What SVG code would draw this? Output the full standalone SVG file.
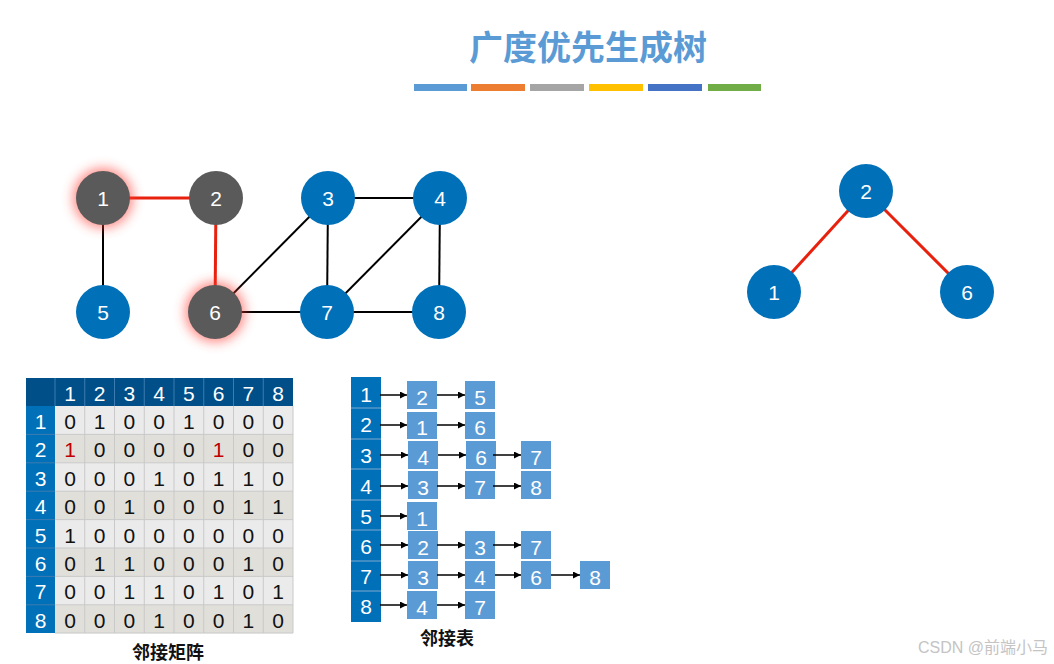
<svg xmlns="http://www.w3.org/2000/svg" width="1054" height="664" viewBox="0 0 1054 664">
<style>
.t{font-family:"Liberation Sans","Noto Sans CJK SC",sans-serif}
.nd text{font-family:"Liberation Sans",sans-serif;font-size:21px;fill:#fff;text-anchor:middle;dominant-baseline:central}
.blue{fill:#0070b8}
.gray{fill:#5a5a5a}
.ed .k{stroke:#000;stroke-width:2}
.ed .r{stroke:#e8210f;stroke-width:3}
.mh{font-family:"Liberation Sans",sans-serif;font-size:21px;fill:#fff;text-anchor:middle;dominant-baseline:central}
.mv{font-family:"Liberation Sans",sans-serif;font-size:21px;fill:#111;text-anchor:middle;dominant-baseline:central}
.box{fill:#5b9bd5}
.bt{font-family:"Liberation Sans",sans-serif;font-size:21px;fill:#fff;text-anchor:middle;dominant-baseline:central}
.ar{stroke:#000;stroke-width:1.5;marker-end:url(#ah)}
</style>
<defs>
<filter id="glow" x="-1" y="-1" width="3" height="3"><feGaussianBlur stdDeviation="6"/></filter>
<marker id="ah" viewBox="0 0 10 10" refX="10" refY="5" markerWidth="7" markerHeight="7" orient="auto" markerUnits="userSpaceOnUse"><path d="M0,0 L10,5 L0,10 z" fill="#000"/></marker>
</defs>
<rect width="1054" height="664" fill="#fff"/>
<g id="title">
<text class="t" x="588" y="60" font-size="34" font-weight="600" fill="#5b9bd5" text-anchor="middle">广度优先生成树</text>
<rect x="414" y="84" width="53" height="7" fill="#5b9bd5"/>
<rect x="471" y="84" width="54" height="7" fill="#ed7d31"/>
<rect x="530" y="84" width="54" height="7" fill="#a5a5a5"/>
<rect x="589" y="84" width="54" height="7" fill="#ffc000"/>
<rect x="648" y="84" width="54" height="7" fill="#4472c4"/>
<rect x="708" y="84" width="53" height="7" fill="#70ad47"/>
</g>
<g id="connectors" class="ed">
<line class="r" x1="103" y1="198" x2="216" y2="198"/>
<line class="r" x1="216" y1="198" x2="215" y2="312"/>
<line class="k" x1="103" y1="198" x2="103" y2="312"/>
<line class="k" x1="328" y1="198" x2="440" y2="198"/>
<line class="k" x1="328" y1="198" x2="327" y2="312"/>
<line class="k" x1="440" y1="198" x2="439" y2="312"/>
<line class="k" x1="440" y1="198" x2="327" y2="312"/>
<line class="k" x1="328" y1="198" x2="215" y2="312"/>
<line class="k" x1="215" y1="312" x2="439" y2="312"/>
<line class="r" x1="866" y1="191" x2="774" y2="292"/>
<line class="r" x1="866" y1="191" x2="967" y2="292"/>
</g>
<g id="glows">
<circle cx="103" cy="198" r="30" fill="#ff3b30" opacity="0.6" filter="url(#glow)"/>
<circle cx="215" cy="312" r="30" fill="#ff3b30" opacity="0.6" filter="url(#glow)"/>
</g>
<g id="n1" class="nd"><circle class="gray" cx="103" cy="198" r="27"/><text x="103" y="198">1</text></g>
<g id="n2" class="nd"><circle class="gray" cx="216" cy="198" r="27"/><text x="216" y="198">2</text></g>
<g id="n3" class="nd"><circle class="blue" cx="328" cy="198" r="27"/><text x="328" y="198">3</text></g>
<g id="n4" class="nd"><circle class="blue" cx="440" cy="198" r="27"/><text x="440" y="198">4</text></g>
<g id="n5" class="nd"><circle class="blue" cx="103" cy="312" r="27"/><text x="103" y="312">5</text></g>
<g id="n6" class="nd"><circle class="gray" cx="215" cy="312" r="27"/><text x="215" y="312">6</text></g>
<g id="n7" class="nd"><circle class="blue" cx="327" cy="312" r="27"/><text x="327" y="312">7</text></g>
<g id="n8" class="nd"><circle class="blue" cx="439" cy="312" r="27"/><text x="439" y="312">8</text></g>
<g id="t2" class="nd"><circle class="blue" cx="866" cy="191" r="27"/><text x="866" y="191">2</text></g>
<g id="t1" class="nd"><circle class="blue" cx="774" cy="292" r="27"/><text x="774" y="292">1</text></g>
<g id="t6" class="nd"><circle class="blue" cx="967" cy="292" r="27"/><text x="967" y="292">6</text></g>
<g id="matrix">
<rect x="26" y="378" width="267" height="28" fill="#004f88"/>
<rect x="26" y="406" width="29" height="227" fill="#0070b8"/>
<rect x="55" y="406" width="238" height="28.4" fill="#ebebeb"/>
<rect x="55" y="434.4" width="238" height="28.4" fill="#e0dfda"/>
<rect x="55" y="462.8" width="238" height="28.4" fill="#ebebeb"/>
<rect x="55" y="491.2" width="238" height="28.4" fill="#e0dfda"/>
<rect x="55" y="519.6" width="238" height="28.4" fill="#ebebeb"/>
<rect x="55" y="548" width="238" height="28.4" fill="#e0dfda"/>
<rect x="55" y="576.4" width="238" height="28.4" fill="#ebebeb"/>
<rect x="55" y="604.8" width="238" height="28.4" fill="#e0dfda"/>
<g stroke="#c9c9c9" stroke-width="1">
<line x1="84.75" y1="406" x2="84.75" y2="633"/><line x1="114.5" y1="406" x2="114.5" y2="633"/><line x1="144.25" y1="406" x2="144.25" y2="633"/><line x1="174" y1="406" x2="174" y2="633"/><line x1="203.75" y1="406" x2="203.75" y2="633"/><line x1="233.5" y1="406" x2="233.5" y2="633"/><line x1="263.25" y1="406" x2="263.25" y2="633"/><line x1="293" y1="406" x2="293" y2="633"/>
<line x1="55" y1="434.4" x2="293" y2="434.4"/><line x1="55" y1="462.8" x2="293" y2="462.8"/><line x1="55" y1="491.2" x2="293" y2="491.2"/><line x1="55" y1="519.6" x2="293" y2="519.6"/><line x1="55" y1="548" x2="293" y2="548"/><line x1="55" y1="576.4" x2="293" y2="576.4"/><line x1="55" y1="604.8" x2="293" y2="604.8"/><line x1="55" y1="633" x2="293" y2="633"/>
</g>
<g stroke="#3d7cb0" stroke-width="1">
<line x1="55" y1="378" x2="55" y2="406"/><line x1="84.75" y1="378" x2="84.75" y2="406"/><line x1="114.5" y1="378" x2="114.5" y2="406"/><line x1="144.25" y1="378" x2="144.25" y2="406"/><line x1="174" y1="378" x2="174" y2="406"/><line x1="203.75" y1="378" x2="203.75" y2="406"/><line x1="233.5" y1="378" x2="233.5" y2="406"/><line x1="263.25" y1="378" x2="263.25" y2="406"/>
<line x1="26" y1="434.4" x2="55" y2="434.4"/><line x1="26" y1="462.8" x2="55" y2="462.8"/><line x1="26" y1="491.2" x2="55" y2="491.2"/><line x1="26" y1="519.6" x2="55" y2="519.6"/><line x1="26" y1="548" x2="55" y2="548"/><line x1="26" y1="576.4" x2="55" y2="576.4"/><line x1="26" y1="604.8" x2="55" y2="604.8"/>
</g>
<g class="mh">
<text x="70" y="393">1</text><text x="99.6" y="393">2</text><text x="129.4" y="393">3</text><text x="159.1" y="393">4</text><text x="188.9" y="393">5</text><text x="218.6" y="393">6</text><text x="248.4" y="393">7</text><text x="278.1" y="393">8</text>
<text x="40.5" y="421.5">1</text><text x="40.5" y="449.9">2</text><text x="40.5" y="478.3">3</text><text x="40.5" y="506.7">4</text><text x="40.5" y="535.1">5</text><text x="40.5" y="563.5">6</text><text x="40.5" y="591.9">7</text><text x="40.5" y="620.3">8</text>
</g>
<g class="mv">
<text x="70" y="421.5">0</text><text x="99.6" y="421.5">1</text><text x="129.4" y="421.5">0</text><text x="159.1" y="421.5">0</text><text x="188.9" y="421.5">1</text><text x="218.6" y="421.5">0</text><text x="248.4" y="421.5">0</text><text x="278.1" y="421.5">0</text>
<text x="70" y="449.9" fill="#c00000">1</text><text x="99.6" y="449.9">0</text><text x="129.4" y="449.9">0</text><text x="159.1" y="449.9">0</text><text x="188.9" y="449.9">0</text><text x="218.6" y="449.9" fill="#c00000">1</text><text x="248.4" y="449.9">0</text><text x="278.1" y="449.9">0</text>
<text x="70" y="478.3">0</text><text x="99.6" y="478.3">0</text><text x="129.4" y="478.3">0</text><text x="159.1" y="478.3">1</text><text x="188.9" y="478.3">0</text><text x="218.6" y="478.3">1</text><text x="248.4" y="478.3">1</text><text x="278.1" y="478.3">0</text>
<text x="70" y="506.7">0</text><text x="99.6" y="506.7">0</text><text x="129.4" y="506.7">1</text><text x="159.1" y="506.7">0</text><text x="188.9" y="506.7">0</text><text x="218.6" y="506.7">0</text><text x="248.4" y="506.7">1</text><text x="278.1" y="506.7">1</text>
<text x="70" y="535.1">1</text><text x="99.6" y="535.1">0</text><text x="129.4" y="535.1">0</text><text x="159.1" y="535.1">0</text><text x="188.9" y="535.1">0</text><text x="218.6" y="535.1">0</text><text x="248.4" y="535.1">0</text><text x="278.1" y="535.1">0</text>
<text x="70" y="563.5">0</text><text x="99.6" y="563.5">1</text><text x="129.4" y="563.5">1</text><text x="159.1" y="563.5">0</text><text x="188.9" y="563.5">0</text><text x="218.6" y="563.5">0</text><text x="248.4" y="563.5">1</text><text x="278.1" y="563.5">0</text>
<text x="70" y="591.9">0</text><text x="99.6" y="591.9">0</text><text x="129.4" y="591.9">1</text><text x="159.1" y="591.9">1</text><text x="188.9" y="591.9">0</text><text x="218.6" y="591.9">1</text><text x="248.4" y="591.9">0</text><text x="278.1" y="591.9">1</text>
<text x="70" y="620.3">0</text><text x="99.6" y="620.3">0</text><text x="129.4" y="620.3">0</text><text x="159.1" y="620.3">1</text><text x="188.9" y="620.3">0</text><text x="218.6" y="620.3">0</text><text x="248.4" y="620.3">1</text><text x="278.1" y="620.3">0</text>
</g>
<text class="t" x="168" y="659" font-size="18" font-weight="600" fill="#111" text-anchor="middle">邻接矩阵</text>
</g>
<g id="adjlist">
<rect x="351" y="377" width="30" height="245" fill="#0070b8"/>
<g stroke="#7fa9cf" stroke-width="1">
<line x1="351" y1="408" x2="381" y2="408"/><line x1="351" y1="439" x2="381" y2="439"/><line x1="351" y1="469" x2="381" y2="469"/><line x1="351" y1="500" x2="381" y2="500"/><line x1="351" y1="530" x2="381" y2="530"/><line x1="351" y1="561" x2="381" y2="561"/><line x1="351" y1="591" x2="381" y2="591"/>
</g>
<g class="bt">
<text x="366" y="394">1</text><text x="366" y="424">2</text><text x="366" y="455">3</text><text x="366" y="486">4</text><text x="366" y="516">5</text><text x="366" y="546">6</text><text x="366" y="576">7</text><text x="366" y="606">8</text>
</g>
<g class="box">
<rect x="407" y="381" width="30" height="28"/><rect x="465" y="381" width="30" height="28"/>
<rect x="407" y="412" width="30" height="27"/><rect x="465" y="412" width="30" height="27"/>
<rect x="408" y="441" width="30" height="28"/><rect x="466" y="441" width="30" height="28"/><rect x="521" y="441" width="30" height="28"/>
<rect x="408" y="471" width="30" height="28"/><rect x="465" y="471" width="30" height="28"/><rect x="521" y="471" width="30" height="28"/>
<rect x="407" y="502" width="30" height="28"/>
<rect x="408" y="531" width="30" height="28"/><rect x="465" y="531" width="30" height="28"/><rect x="521" y="531" width="30" height="28"/>
<rect x="408" y="561" width="30" height="28"/><rect x="465" y="561" width="30" height="28"/><rect x="521" y="561" width="30" height="28"/><rect x="580" y="561" width="30" height="28"/>
<rect x="407" y="591" width="30" height="28"/><rect x="465" y="591" width="30" height="28"/>
</g>
<g class="bt">
<text x="422" y="397">2</text><text x="480" y="397">5</text>
<text x="422" y="427">1</text><text x="480" y="427">6</text>
<text x="423" y="457">4</text><text x="481" y="457">6</text><text x="536" y="457">7</text>
<text x="423" y="487">3</text><text x="480" y="487">7</text><text x="536" y="487">8</text>
<text x="422" y="518">1</text>
<text x="423" y="547">2</text><text x="480" y="547">3</text><text x="536" y="547">7</text>
<text x="423" y="577">3</text><text x="480" y="577">4</text><text x="536" y="577">6</text><text x="595" y="577">8</text>
<text x="422" y="607">4</text><text x="480" y="607">7</text>
</g>
<g>
<line class="ar" x1="380" y1="395" x2="407" y2="395"/><line class="ar" x1="437" y1="395" x2="465" y2="395"/>
<line class="ar" x1="380" y1="425" x2="407" y2="425"/><line class="ar" x1="437" y1="425" x2="465" y2="425"/>
<line class="ar" x1="380" y1="455" x2="408" y2="455"/><line class="ar" x1="438" y1="455" x2="466" y2="455"/><line class="ar" x1="493" y1="455" x2="521" y2="455"/>
<line class="ar" x1="380" y1="486" x2="408" y2="486"/><line class="ar" x1="437" y1="486" x2="465" y2="486"/><line class="ar" x1="493" y1="486" x2="521" y2="486"/>
<line class="ar" x1="380" y1="516" x2="407" y2="516"/>
<line class="ar" x1="380" y1="545" x2="408" y2="545"/><line class="ar" x1="437" y1="545" x2="465" y2="545"/><line class="ar" x1="493" y1="545" x2="521" y2="545"/>
<line class="ar" x1="380" y1="575" x2="408" y2="575"/><line class="ar" x1="437" y1="575" x2="465" y2="575"/><line class="ar" x1="495" y1="575" x2="521" y2="575"/><line class="ar" x1="551" y1="575" x2="580" y2="575"/>
<line class="ar" x1="380" y1="605" x2="407" y2="605"/><line class="ar" x1="437" y1="605" x2="465" y2="605"/>
</g>
<text class="t" x="447" y="645" font-size="18" font-weight="600" fill="#111" text-anchor="middle">邻接表</text>
</g>
<text class="t" x="1048" y="653" font-size="16" fill="#c4c4c4" text-anchor="end">CSDN @前端小马</text>
</svg>
